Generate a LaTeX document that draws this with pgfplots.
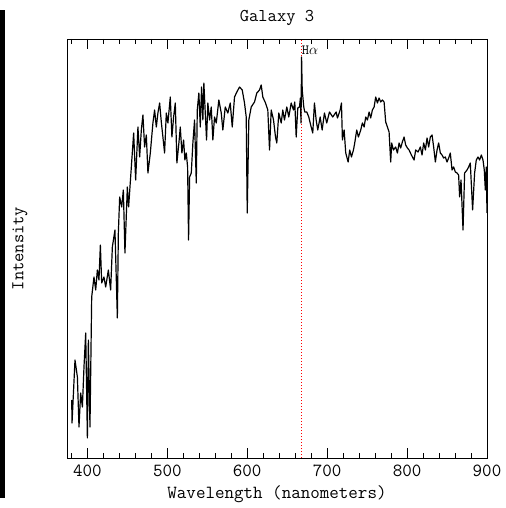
\documentclass[border=0pt]{standalone}
\usepackage{pgfplots}
\pgfplotsset{compat=1.18}
\definecolor{halpha}{RGB}{255,0,0}
\newcommand{\bigtt}{\fontsize{18.5bp}{22bp}\selectfont\ttfamily}
\newcommand{\midtt}{\fontsize{18bp}{22bp}\selectfont\ttfamily}
\begin{document}
\begin{tikzpicture}
\begin{axis}[
  at={(0,0)}, anchor=south west,
  scale only axis, width=420bp, height=419bp,
  xmin=374.5, xmax=900, ymin=0, ymax=419,
  xtick={400,500,600,700,800,900},
  minor xtick={380,420,440,460,480,520,540,560,580,620,640,660,680,720,740,760,780,820,840,860,880},
  ytick=\empty,
  tick align=inside,
  xtick pos=both,
  major tick length=10bp, minor tick length=5bp,
  axis line style={line width=0.9pt},
  every tick/.style={black, line width=0.7pt},
  xticklabels={\texttt{400},\texttt{500},\texttt{600},\texttt{700},\texttt{800},\texttt{900}},
  xticklabel style={font=\bigtt, anchor=center, yshift=-13bp},
  xlabel={Wavelength (nanometers)},
  xlabel style={font=\bigtt, at={(axis description cs:0.5,-0.086)}, anchor=center},
  ylabel={Intensity},
  ylabel style={font=\midtt, at={(axis description cs:-0.112,0.5)}, anchor=center},
  title={Galaxy 3},
  title style={font=\midtt, at={(axis description cs:0.5,1.036)}, anchor=center},
  clip=true,
]
\addplot[halpha, dash pattern=on 1.3bp off 1.7bp, line width=1.2pt] coordinates {(668,0) (668,419)};
\addplot[black, line width=1.2pt, line join=round] coordinates {
(380.4,58) (380.8,35) (384.5,98) (387.5,81) (389.5,31) (391.6,65) (393.75,51) (395.75,91) (397.9,125) (400,20)
(401.25,118) (403.25,31) (405.4,161) (408.25,181) (410.4,168) (412.5,188) (414.5,178) (416.25,213) (417.9,175) (420.75,181)
(422.9,171) (426.25,188) (429.1,168) (431.25,211) (434.5,228) (437.5,140) (438.75,225) (440.4,261) (442.9,251) (445,268)
(447,205) (450,271) (451.6,251) (455,291) (457.9,325) (460.4,278) (463.25,331) (465.4,301) (467.5,328) (469.5,343)
(471.6,311) (473.75,323) (475.75,285) (478.75,305) (482,335) (484.1,348) (486.25,331) (488.25,345) (490.4,355) (492.5,336)
(494.5,321) (496.6,305) (498.75,345) (500.75,335) (503.75,361) (505.75,321) (507.9,341) (510,355) (512,295) (514.5,315)
(516.25,331) (518.25,305) (520.4,318) (522,298) (523.75,305) (525.4,291) (526.6,218) (527.9,281) (530,285) (532,315)
(534.1,338) (536.25,275) (537.5,348) (539.5,365) (541.25,331) (542.9,371) (544.5,338) (545.75,375) (547.5,345) (549.1,318)
(550.75,355) (552.9,338) (555,351) (557,318) (559.1,341) (561.25,335) (564.5,358) (567.5,345) (569.5,328) (572.5,351)
(575.75,345) (578.75,355) (581.25,331) (584.1,361) (587,366) (590.4,371) (593.75,368) (596.6,355) (598.75,341) (600,245)
(602,338) (605,351) (609.1,356) (612,365) (615.4,368) (617.5,373) (619.5,361) (622.9,355) (625.75,348) (627.9,308)
(630,348) (632.9,338) (635.4,321) (637,315) (639.5,345) (642.5,335) (644.5,348) (646.6,338) (649.5,351) (652,341)
(655,355) (657.9,348) (659.5,356) (661.25,321) (663.25,350) (665.4,351) (666.5,360) (667.3,335) (668,401) (668.8,368)
(670.75,351) (672,346) (674.5,346) (677,341) (680,331) (682,325) (684.1,355) (686.25,338) (688.25,328) (691.25,341)
(693.75,328) (696.6,345) (699.5,335) (702.9,346) (707,341) (711.25,346) (712.9,340) (716.25,348) (717.9,355) (719.1,318)
(721.25,328) (723.25,305) (726.25,296) (728.25,308) (730.4,301) (732.9,308) (734.5,315) (737,328) (739.1,321) (742,328)
(744.1,335) (746.25,331) (748.25,341) (750.4,338) (752.5,346) (754.5,340) (756.6,348) (758.75,351) (760.75,361) (762.9,355)
(765,360) (767,356) (769.1,358) (771.25,356) (773.25,336) (775.4,331) (777.5,326) (779.5,296) (780.75,315) (782.9,308)
(785.75,311) (787.9,305) (790,315) (792,310) (794.1,316) (796.25,321) (798.25,313) (800.4,310) (802.5,308) (805.4,303)
(808.75,298) (810.75,308) (813.75,306) (816.6,311) (818.75,303) (820.75,315) (822.9,308) (825,320) (827,311) (829.1,321)
(831.25,323) (833.25,311) (835.4,296) (837.5,308) (839.5,315) (841.6,305) (843.75,303) (845.75,300) (847.9,301) (850,296)
(852,300) (854.1,305) (856.25,288) (858.25,291) (860.4,286) (862.5,285) (864.5,283) (865.75,261) (867.5,278) (870,228)
(872,285) (875,288) (877,291) (879.1,295) (882,248) (884.5,285) (886.6,298) (888.75,301) (890.75,298) (892.9,303)
(895,298) (896.6,288) (897.9,268) (899.1,291) (900,245)
};
\node[anchor=north west, font=\fontsize{14bp}{16bp}\selectfont\ttfamily, inner sep=0.5bp] at (axis cs:667.5,413) {H$\alpha$};
\end{axis}
\fill[black] (-67bp,-40bp) rectangle (-62bp,448bp);
\useasboundingbox (-67bp,-50bp) rectangle (439bp,458bp);
\end{tikzpicture}
\end{document}
